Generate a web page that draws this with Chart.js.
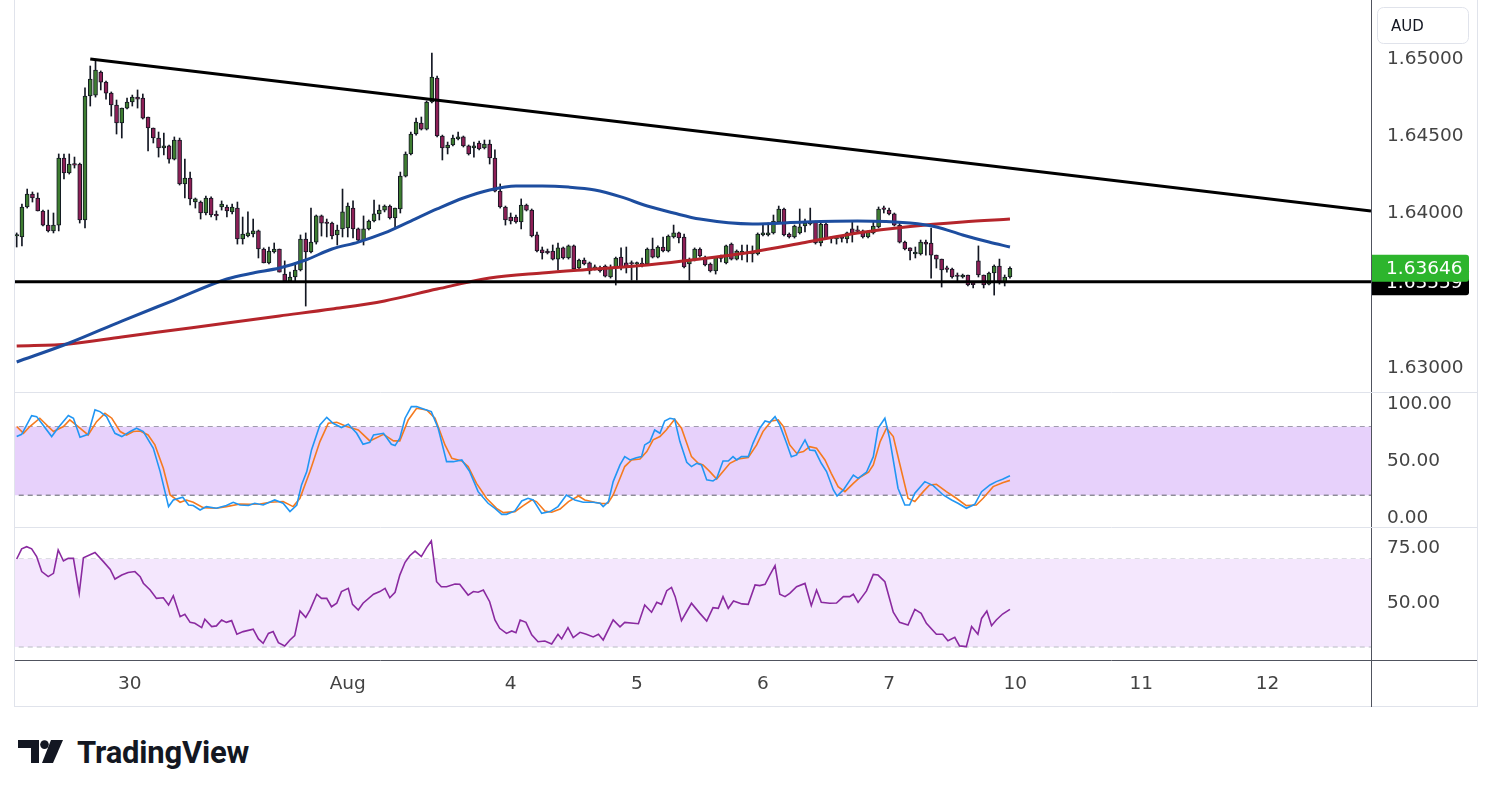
<!DOCTYPE html>
<html><head><meta charset="utf-8">
<script src="https://cdn.jsdelivr.net/npm/chart.js@4.4.1/dist/chart.umd.min.js"></script>
<style>
html,body{margin:0;padding:0;background:#fff;width:1491px;height:797px;overflow:hidden;}
#frame{position:absolute;left:14px;top:-1px;width:1464px;height:708px;border:1px solid #e0e3eb;box-sizing:border-box;}
canvas.pane{position:absolute;left:15px;}
#cPrice{top:0;}
#cStoch{top:392px;}
#cRsi{top:527px;}
#logoIcon{position:absolute;left:18px;top:740px;}
#logoText{position:absolute;left:77px;top:737px;line-height:31px;font-family:Roboto,"Noto Sans",sans-serif;font-weight:700;font-size:31px;color:#131722;letter-spacing:-0.2px;}
</style></head><body>
<div id="frame"></div>
<canvas id="cPrice" class="pane" width="1462" height="392"></canvas>
<canvas id="cStoch" class="pane" width="1462" height="135"></canvas>
<canvas id="cRsi" class="pane" width="1462" height="180"></canvas>
<svg id="logoIcon" width="45" height="23" viewBox="0 0 45 23"><path d="M0 0H21V23H13V8H0Z" fill="#131722"/><circle cx="26.5" cy="4.6" r="4.3" fill="#131722"/><path d="M33 0H45L35 23H24Z" fill="#131722"/></svg>
<div id="logoText">TradingView</div>
<script>
// ---------- DATA ----------
const xTickIdx = [21.5, 63, 94, 118, 142, 166, 190, 214, 238];
const xTickLabels = ['30', 'Aug', '4', '5', '6', '7', '10', '11', '12'];
const priceTicks = [1.63, 1.64, 1.645, 1.65];
const stochTicks = [0, 50, 100];
const rsiTicks = [50, 75];

const open = [
1.63855,1.63849,1.64043,1.64127,1.64101,1.64017,1.63926,1.63888,1.63926,1.64360,
1.64263,1.64321,1.64321,1.63959,1.64761,1.64767,1.64916,1.64851,1.64780,1.64703,
1.64586,1.64683,1.64722,1.64754,1.64748,1.64625,1.64554,1.64489,1.64425,1.64438,
1.64353,1.64476,1.64192,1.64230,1.64075,1.64075,1.64004,1.64101,1.63991,1.64043,
1.64043,1.64011,1.64036,1.63836,1.63855,1.63868,1.63888,1.63771,1.63681,1.63752,
1.63771,1.63609,1.63564,1.63590,1.63635,1.63836,1.63752,1.63816,1.63985,1.63939,
1.63939,1.63862,1.63901,1.63907,1.64036,1.63901,1.63829,1.63901,1.63952,1.63998,
1.64023,1.64049,1.63972,1.64030,1.64243,1.64386,1.64515,1.64586,1.64547,1.64722,
1.64877,1.64502,1.64425,1.64444,1.64483,1.64496,1.64438,1.64425,1.64457,1.64425,
1.64450,1.64360,1.64146,1.64043,1.63978,1.63978,1.63946,1.64056,1.64023,1.63862,
1.63765,1.63758,1.63758,1.63706,1.63778,1.63713,1.63791,1.63648,1.63700,1.63681,
1.63642,1.63648,1.63661,1.63590,1.63648,1.63719,1.63681,1.63681,1.63674,1.63674,
1.63674,1.63771,1.63719,1.63784,1.63758,1.63849,1.63875,1.63849,1.63674,1.63700,
1.63771,1.63719,1.63674,1.63629,1.63713,1.63681,1.63803,1.63706,1.63739,1.63745,
1.63739,1.63739,1.63862,1.63862,1.63875,1.63946,1.64030,1.63868,1.63849,1.63875,
1.63920,1.63933,1.63946,1.63810,1.63933,1.63842,1.63836,1.63842,1.63836,1.63901,
1.63888,1.63888,1.63849,1.63875,1.63914,1.64030,1.64023,1.63998,1.63926,1.63816,
1.63778,1.63739,1.63739,1.63816,1.63810,1.63732,1.63706,1.63642,1.63642,1.63596,
1.63590,1.63603,1.63544,1.63694,1.63603,1.63544,1.63616,1.63661,1.63551,1.63590];
const high = [
1.63875,1.64062,1.64159,1.64140,1.64134,1.64023,1.64023,1.64004,1.64386,1.64386,
1.64386,1.64366,1.64327,1.64813,1.64955,1.64987,1.64923,1.64858,1.64787,1.64735,
1.64683,1.64748,1.64767,1.64800,1.64774,1.64625,1.64554,1.64528,1.64521,1.64444,
1.64496,1.64489,1.64353,1.64269,1.64101,1.64082,1.64114,1.64108,1.64017,1.64082,
1.64056,1.64062,1.64075,1.63978,1.64011,1.63965,1.63894,1.63778,1.63784,1.63810,
1.63771,1.63694,1.63622,1.63681,1.63862,1.63875,1.64036,1.63991,1.63991,1.63965,
1.63946,1.63926,1.64159,1.64069,1.64082,1.63907,1.63985,1.63959,1.64088,1.64056,
1.64056,1.64056,1.64036,1.64269,1.64399,1.64528,1.64618,1.64625,1.64729,1.65039,
1.64890,1.64508,1.64463,1.64508,1.64528,1.64502,1.64444,1.64463,1.64470,1.64476,
1.64476,1.64412,1.64192,1.64049,1.64004,1.63991,1.64095,1.64062,1.64030,1.63881,
1.63784,1.63771,1.63797,1.63810,1.63784,1.63797,1.63797,1.63706,1.63713,1.63687,
1.63668,1.63661,1.63668,1.63668,1.63719,1.63778,1.63784,1.63694,1.63687,1.63713,
1.63778,1.63842,1.63791,1.63849,1.63862,1.63926,1.63881,1.63868,1.63713,1.63778,
1.63778,1.63726,1.63681,1.63719,1.63732,1.63797,1.63810,1.63765,1.63797,1.63797,
1.63791,1.63875,1.63933,1.63939,1.63991,1.64049,1.64036,1.63875,1.63926,1.64030,
1.63965,1.64036,1.63952,1.63939,1.63939,1.63849,1.63849,1.63855,1.63881,1.63946,
1.63920,1.63894,1.63888,1.63946,1.64043,1.64049,1.64036,1.64004,1.63939,1.63823,
1.63778,1.63784,1.63829,1.63829,1.63907,1.63732,1.63706,1.63661,1.63648,1.63616,
1.63609,1.63603,1.63557,1.63791,1.63603,1.63622,1.63668,1.63706,1.63603,1.63655];
const low = [
1.63784,1.63791,1.64036,1.64075,1.64017,1.63920,1.63881,1.63875,1.63888,1.64224,
1.64256,1.64295,1.63939,1.63907,1.64696,1.64754,1.64800,1.64741,1.64631,1.64515,
1.64489,1.64677,1.64696,1.64683,1.64612,1.64405,1.64457,1.64366,1.64379,1.64327,
1.64347,1.64185,1.64101,1.64056,1.64036,1.63965,1.63991,1.63978,1.63959,1.64023,
1.63978,1.63998,1.63803,1.63803,1.63849,1.63849,1.63713,1.63681,1.63674,1.63745,
1.63622,1.63557,1.63557,1.63557,1.63629,1.63402,1.63745,1.63803,1.63855,1.63849,
1.63836,1.63797,1.63849,1.63849,1.63842,1.63816,1.63797,1.63894,1.63946,1.63959,
1.64011,1.63965,1.63914,1.64004,1.64237,1.64379,1.64508,1.64541,1.64541,1.64716,
1.64496,1.64347,1.64386,1.64438,1.64476,1.64431,1.64379,1.64366,1.64412,1.64418,
1.64321,1.64140,1.64036,1.63926,1.63933,1.63939,1.63901,1.64017,1.63849,1.63752,
1.63706,1.63739,1.63700,1.63635,1.63706,1.63706,1.63635,1.63642,1.63668,1.63609,
1.63635,1.63622,1.63590,1.63583,1.63538,1.63635,1.63616,1.63570,1.63570,1.63655,
1.63668,1.63713,1.63713,1.63752,1.63752,1.63842,1.63810,1.63648,1.63570,1.63694,
1.63719,1.63661,1.63622,1.63609,1.63687,1.63674,1.63700,1.63700,1.63700,1.63687,
1.63687,1.63732,1.63855,1.63855,1.63868,1.63939,1.63855,1.63842,1.63842,1.63868,
1.63881,1.63926,1.63803,1.63791,1.63836,1.63810,1.63803,1.63816,1.63810,1.63816,
1.63875,1.63842,1.63842,1.63868,1.63907,1.64004,1.63991,1.63920,1.63810,1.63765,
1.63700,1.63713,1.63732,1.63732,1.63583,1.63648,1.63525,1.63622,1.63583,1.63564,
1.63583,1.63532,1.63519,1.63590,1.63519,1.63538,1.63473,1.63544,1.63532,1.63583];
const close = [
1.63862,1.64043,1.64127,1.64101,1.64017,1.63926,1.63888,1.63926,1.64360,1.64263,
1.64321,1.64314,1.63959,1.64761,1.64871,1.64929,1.64851,1.64780,1.64703,1.64586,
1.64683,1.64722,1.64754,1.64741,1.64618,1.64554,1.64489,1.64425,1.64438,1.64353,
1.64476,1.64192,1.64230,1.64095,1.64095,1.64004,1.64101,1.63991,1.63985,1.64062,
1.64017,1.64043,1.63836,1.63868,1.63875,1.63888,1.63771,1.63681,1.63758,1.63771,
1.63622,1.63564,1.63590,1.63635,1.63836,1.63752,1.63816,1.63985,1.63939,1.63936,
1.63855,1.63894,1.64011,1.64049,1.63901,1.63829,1.63901,1.63952,1.63998,1.64023,
1.64049,1.63972,1.64036,1.64243,1.64386,1.64515,1.64593,1.64547,1.64722,1.64884,
1.64502,1.64425,1.64444,1.64489,1.64496,1.64438,1.64386,1.64438,1.64418,1.64450,
1.64360,1.64146,1.64043,1.63959,1.63952,1.63946,1.64056,1.64023,1.63855,1.63758,
1.63745,1.63745,1.63706,1.63778,1.63713,1.63791,1.63642,1.63700,1.63674,1.63629,
1.63655,1.63629,1.63596,1.63648,1.63713,1.63648,1.63655,1.63674,1.63677,1.63671,
1.63771,1.63719,1.63784,1.63758,1.63855,1.63875,1.63842,1.63655,1.63700,1.63771,
1.63726,1.63668,1.63629,1.63719,1.63710,1.63791,1.63706,1.63758,1.63758,1.63742,
1.63752,1.63868,1.63875,1.63875,1.63952,1.64030,1.63862,1.63849,1.63920,1.63914,
1.63939,1.63946,1.63810,1.63933,1.63842,1.63839,1.63839,1.63839,1.63875,1.63875,
1.63885,1.63849,1.63881,1.63920,1.64030,1.64027,1.63998,1.63926,1.63816,1.63771,
1.63758,1.63752,1.63816,1.63803,1.63732,1.63706,1.63635,1.63639,1.63590,1.63593,
1.63603,1.63538,1.63541,1.63603,1.63538,1.63616,1.63661,1.63551,1.63590,1.63646];

const ma100Idx = [0,10,20,30,40,45,50,55,60,65,70,75,80,85,90,95,100,105,110,115,120,125,130,140,150,160,170,175,180,185,189];
const ma100 = [1.63040,1.63163,1.63305,1.63441,1.63577,1.63616,1.63648,1.63700,1.63771,1.63816,1.63875,1.63952,1.64030,1.64101,1.64153,1.64179,1.64179,1.64172,1.64153,1.64108,1.64049,1.64004,1.63965,1.63933,1.63946,1.63952,1.63939,1.63914,1.63862,1.63816,1.63784];
const ma200Idx = [0,10,20,30,40,50,60,70,80,90,100,110,120,130,140,150,160,170,180,189];
const ma200 = [1.63143,1.63156,1.63202,1.63247,1.63292,1.63338,1.63383,1.63435,1.63512,1.63583,1.63616,1.63642,1.63668,1.63706,1.63752,1.63813,1.63875,1.63917,1.63946,1.63965];

const trendIdx = [14, 257.7];
const trendPrice = [1.65000, 1.64017];
const supportLevel = 1.63559;

const kIdx = [0,0.95,2.85,3.8,4.76,6.66,7.93,9.83,10.8,12.05,
13.6,14.9,15.85,17.1,18.7,20,21.6,22.8,24.1,26,
27.3,28.9,29.8,31.6,32.7,33.6,34.9,36.1,38,39.9,
41.2,42.5,44.1,45.3,46.9,49.1,50.7,52,53.3,54.2,
55.2,56.1,57.7,59,60.2,61.8,63.1,64.7,65.9,67.2,
67.9,69.8,71.3,72,72.9,73.9,75.1,76.1,77.4,78.9,
80.2,81.8,83.1,84.7,86.2,87.8,89.7,91,92.3,93.2,
94.8,96.1,97.3,98.3,99.9,101.5,103,104.6,106.2,107.8,
109.7,111,111.6,112.6,113.5,114.8,115.7,116.7,117.9,118.9,
119.5,120.5,121.4,122.4,123.3,124.3,125.2,126.2,127.5,128.4,
129.4,130.3,131.3,132.5,133.2,134.4,135.4,136.3,137,137.9,
139.2,140.1,141.4,142.4,143.3,144.3,145.2,146.5,147.4,148.4,
150,150.9,151.9,153.1,154.1,155.4,156.1,157.3,159.2,160.1,
161.7,163,163.9,165.2,166.1,167.7,169,169.9,170.9,172.8,
174.4,176.3,177.9,179.1,180.7,182.3,183.6,185.2,186.4,187.6,
189];
const kVal = [71.4,73.4,89.8,88.9,83.1,71.4,79.3,89.8,87.5,70.8,
73.4,94.8,93.3,88.9,74.3,71.4,75.8,78.7,75.8,61.1,
40.7,10,15.8,18.2,11.4,10.9,7,10,8.5,10.9,
13.8,11.4,10.9,12.9,11.4,15.8,12.9,5.6,11.4,29,
40.7,59.7,81.6,88.3,83.1,79.3,82.2,74.3,64.7,66.4,
72.8,74.3,64.7,63.5,69.9,87.5,97.7,97.7,95.6,93.3,
78.7,49.4,49.4,50.9,40.7,23.1,12.9,8.5,3.2,3.2,
6.2,14.9,17.3,15.8,4.1,5.6,10,20.2,15.8,13.8,
13.8,12.9,10,14.4,31.9,46.5,53.8,50.9,52.9,53.8,
64.1,67,77.2,74.3,85.1,87.5,86.6,67,48.9,45.1,
48,46.5,33.4,32.5,34.8,50,50,53.8,50.9,53.8,
53.8,65.5,78.7,85.1,83.9,88.9,81.6,65.5,53.8,55.3,
68.5,59.7,59.1,48,40.7,24.6,19.3,24.6,37.7,34.8,
40.1,53.8,78.7,87.5,69.9,26.1,11.4,11.4,21.7,31.9,
28.4,20.2,15.8,12.9,8.5,12,23.1,29,31.9,34,
37];
const dIdx = [0,1.3,2.5,4.4,6,7,8.9,10.1,11.7,13.6,
15.2,16.8,18.1,19.7,20.9,22.2,23.5,25,26.3,27.9,
29.2,31.1,32.3,33.6,35.5,38,39.9,42.5,44.4,46.3,
48.2,50.7,52.6,53.9,55.8,57.7,59.3,60.9,62.8,65,
67.2,69.8,71.7,72.9,74.5,76.1,78,79.6,81.5,82.8,
84.7,85.9,87.5,89.4,91.3,92.6,94.8,96.4,98,98.9,
100.5,101.8,103.4,105,106.9,108.1,110,111.3,112.5,113.5,
114.8,115.7,117,118.6,119.9,121.1,122.4,123.6,125.2,126.5,
128.4,129.7,130.6,131.9,133.2,134.4,135.7,137.3,139.2,140.8,
142,143.6,144.9,145.9,147.1,148.4,149.7,150.9,152.2,153.8,
155,156.3,157.6,159.2,160.4,162.1,163,164.3,165.5,166.8,
168,169.6,170.9,172.5,173.7,175,176.9,178.8,180.7,182.6,
183.9,185.8,187.6,189];
const dVal = [80.2,74.3,80.2,87.5,80.2,75.8,80.2,86,80.2,72.8,
84.5,91.8,87.5,75.8,72.8,75.8,76.3,72.8,64.1,43.6,
20.2,13.8,15.8,13.8,9.1,8.5,10,12.3,12,12.3,
13.8,14.4,10,17.3,40.7,67,83.1,84,80.2,77.2,
67.6,73.4,67.6,67.6,86,96.2,94.8,87.5,64.1,52.4,
50,45.1,30.4,17.3,8.5,4.7,5.6,10.9,15.8,14.4,
6.2,5,7.9,14.4,19.3,15.8,13.8,12.6,12.9,20.2,
34.8,45.1,50.9,51.8,58.2,68.5,71.4,77.2,86.6,78.7,
53.8,48,46.5,40.7,34.2,40.7,48,51.8,53,64.1,
75.8,85.1,86,80.2,64.1,56.8,58.2,62.6,61.1,50.9,
39.2,27.5,23.1,30.4,35.4,40.1,46.5,67,78.7,71.4,
48,17.3,14.4,23.1,29,29.6,23.1,17.3,10.9,11.4,
17.3,27.5,31,33];

const rsiIdx = [0,0.95,1.9,2.85,3.8,4.76,6,7,7.9,8.9,
9.8,10.8,11.9,12.7,14.9,16.5,17.8,18.7,20,21.2,
22.5,23.5,24.1,25.4,26.6,27.9,28.9,29.8,31.1,32,
33,33.9,35.2,35.8,37.1,38,39,39.9,40.9,41.9,
43.1,45,46,46.9,47.9,48.8,49.8,51,52,52.9,
53.9,55,55.8,57.1,58,59,59.9,60.9,61.8,63.1,
63.9,65,65.9,67.9,69.1,70.1,71,72,72.9,73.9,
74.8,75.8,77,78,78.9,79.9,80.8,81.8,83.4,84.3,
85.9,86.9,87.8,88.8,90,91,91.9,93.2,94.2,95,
95.8,96.9,98,99.2,100.5,101.8,103,103.7,104.9,105.9,
107.2,108.4,109.7,110.7,111.6,113.5,114.8,115.7,118.3,119.5,
120.8,121.8,122.7,123.7,124.6,125.3,126.5,128.4,130,131.3,
132.5,133.5,134.4,135.4,136.4,138,139.2,140.5,141.4,142.4,
143.3,144.3,145.2,146.2,147.1,148.4,150,151.2,152.2,153.1,
154.7,156,157.3,158.5,159.2,160.1,161.7,163,163.9,165.2,
166.8,168,169.6,170.9,172.1,173.1,175,176.2,177.2,178.5,
179.4,180.7,181.7,182.9,183.6,184.6,185.5,186.4,187.6,189];
const rsiVal = [70,74.6,75.6,74.6,71.1,64.3,62,63.5,74.1,69.1,
70.3,70.3,54.4,70.6,73,68.8,65.3,60.9,62.7,63.9,
64.3,62,59,55.9,52.1,52.4,49.1,53.3,43.8,44.9,
41.2,40.8,38.8,42.6,39.3,39.6,42.3,41.2,42,35.8,
37,38.1,33.7,31.7,36.2,37,32,30.5,33.2,35.2,
46.4,43.5,46.8,54,52.1,52.1,48.3,49.9,55.2,56.7,
49.4,46.8,49.9,54,55.2,56.7,52.4,54.9,62.7,68.5,
71.5,73.6,71.1,75.2,78.2,59.7,57.4,57.4,58.6,58.5,
53.6,55.2,54.9,55.9,50.6,42.3,38.5,36.2,37.3,36.5,
42.3,41.2,35.5,32.4,32.7,31.4,35.8,33.7,38.8,34.3,
36.7,35.8,34.6,35.8,33.2,42.3,39.2,41.2,40.6,49.1,
45.8,50.3,49.4,55.6,57.1,52.9,42,49.9,45.3,41.8,
47.9,47.6,52.9,47.6,50.9,49.6,49.4,58.2,57.9,58.5,
62.7,67,54,52.9,54.4,57.4,58.9,48.8,55.9,50.3,
49.9,50,52.9,52.9,54,50.3,55.5,63,62.7,59.7,
45.8,41.2,40,47.1,45.3,40.8,35.8,35.8,32.9,34.4,
30.5,30.2,39.3,35.8,43,46.4,39.7,42.3,45,47.1];

const stochBand = [20, 80];
const rsiBand = [30, 70];

// ---------- RENDER ----------
const X_MIN = -0.32, X_MAX = 257.7;
const FONT = 'DejaVu Sans';
const TXT = '#434343';
const FSIZE = 18.5;
const pts = (xs, ys) => xs.map((x, i) => ({x, y: ys[i]}));
const hline = (v) => [{x: X_MIN - 1, y: v}, {x: X_MAX + 1, y: v}];
const noPad = (s) => { s.paddingTop = 0; s.paddingBottom = 0; s.paddingLeft = 0; s.paddingRight = 0; };

function yAxis(min, max, ticks, dec) {
  return {
    position: 'right', min, max,
    grid: {display: false, drawTicks: false},
    border: {display: true, color: '#50535e', width: 1},
    afterFit(s) { s.width = 106; noPad(s); },
    afterBuildTicks(s) { s.ticks = ticks.map(v => ({value: v})); },
    ticks: {padding: 16, color: TXT, font: {family: FONT, size: FSIZE}, callback: v => Number(v).toFixed(dec)}
  };
}
function xAxis(show) {
  return {
    type: 'linear', min: X_MIN, max: X_MAX, offset: false, display: show,
    grid: {display: false, drawTicks: false}, border: {display: false},
    afterFit(s) { if (show) s.height = 47; noPad(s); },
    afterBuildTicks(s) { s.ticks = xTickIdx.map(v => ({value: v})); },
    ticks: {autoSkip: false, maxRotation: 0, padding: 13, color: TXT, font: {family: FONT, size: FSIZE},
      callback: v => { const k = xTickIdx.indexOf(v); return k >= 0 ? xTickLabels[k] : ''; }}
  };
}
const baseOpts = {responsive: false, animation: false, events: [],
  layout: {padding: 0}, plugins: {legend: {display: false}, tooltip: {enabled: false}}};

const sepTop = {id: 'sepTop', afterDraw(chart) {
  const c = chart.ctx; c.save(); c.strokeStyle = '#e0e3eb'; c.lineWidth = 1;
  c.beginPath(); c.moveTo(0, 0.5); c.lineTo(chart.width, 0.5); c.stroke(); c.restore();
}};

const idx = open.map((_, i) => i);
const GREEN = '#3e7d31', RED = '#8d1f56';

const priceLabels = {id: 'priceLabels', afterDraw(chart) {
  const {ctx, chartArea} = chart; const y = chart.scales.y;
  const x0 = chartArea.right + 1, w = 97, h = 27;
  function box(val, fill) {
    const py = y.getPixelForValue(val);
    ctx.save(); ctx.fillStyle = fill; ctx.beginPath();
    ctx.roundRect(x0, py - h / 2, w, h, [0, 3, 3, 0]); ctx.fill();
    ctx.fillStyle = '#fff'; ctx.font = FSIZE + 'px "' + FONT + '"'; ctx.textBaseline = 'middle';
    ctx.fillText(val.toFixed(5), x0 + 14, py + 1); ctx.restore();
  }
  box(supportLevel, '#000000');
  box(close[close.length - 1], '#2db52d');
  ctx.save(); ctx.beginPath(); ctx.roundRect(chartArea.right + 6.5, 7.5, 91, 36, 6);
  ctx.fillStyle = '#fff'; ctx.fill(); ctx.strokeStyle = '#e0e3eb'; ctx.lineWidth = 1; ctx.stroke();
  ctx.fillStyle = '#131722'; ctx.font = '15px "' + FONT + '"'; ctx.textBaseline = 'middle';
  ctx.fillText('AUD', chartArea.right + 20, 27); ctx.restore();
}};

new Chart(document.getElementById('cPrice'), {
  type: 'bar',
  data: {datasets: [
    {type: 'line', data: pts(trendIdx, trendPrice), borderColor: '#000', borderWidth: 3, pointRadius: 0, order: -3},
    {type: 'line', data: hline(supportLevel), borderColor: '#000', borderWidth: 3, pointRadius: 0, order: -3},
    {type: 'line', data: pts(ma200Idx, ma200), borderColor: '#b5252b', borderWidth: 3, pointRadius: 0, cubicInterpolationMode: 'monotone', order: -1},
    {type: 'line', data: pts(ma100Idx, ma100), borderColor: '#1d4d9f', borderWidth: 3, pointRadius: 0, cubicInterpolationMode: 'monotone', order: -2},
    {type: 'bar', data: idx.map(i => ({x: i, y: [low[i], high[i]]})), backgroundColor: '#131722', barThickness: 1, grouped: false, order: 2, borderWidth: 0},
    {type: 'bar', data: idx.map(i => ({x: i, y: [open[i], close[i]]})),
      backgroundColor: idx.map(i => close[i] >= open[i] ? GREEN : RED),
      borderColor: '#131722', borderWidth: 1, borderSkipped: false, barThickness: 4, minBarLength: 1.5, grouped: false, order: 1}
  ]},
  options: Object.assign({}, baseOpts, {scales: {x: xAxis(false), y: yAxis(1.62846, 1.65382, priceTicks, 5)}}),
  plugins: [priceLabels]
});

new Chart(document.getElementById('cStoch'), {
  type: 'line',
  data: {datasets: [
    {data: hline(stochBand[1]), borderColor: '#5d606b', borderWidth: 1, borderDash: [5, 4], pointRadius: 0, order: 5},
    {data: hline(stochBand[0]), borderColor: '#5d606b', borderWidth: 1, borderDash: [5, 4], pointRadius: 0, fill: {target: 0}, backgroundColor: '#e7d1fb', order: 4},
    {data: pts(dIdx, dVal), borderColor: '#f57a1f', borderWidth: 1.6, pointRadius: 0, order: 1},
    {data: pts(kIdx, kVal), borderColor: '#2196f3', borderWidth: 1.6, pointRadius: 0, order: 0}
  ]},
  options: Object.assign({}, baseOpts, {scales: {x: xAxis(false), y: yAxis(-7.9, 110.5, stochTicks, 2)}}),
  plugins: [sepTop]
});

const axisFrame = {id: 'axisFrame', afterDraw(chart) {
  const c = chart.ctx, a = chart.chartArea; c.save();
  c.strokeStyle = '#50535e'; c.lineWidth = 1;
  c.beginPath(); c.moveTo(0, Math.round(a.bottom) + 0.5); c.lineTo(chart.width, Math.round(a.bottom) + 0.5); c.stroke();
  c.beginPath(); c.moveTo(Math.round(a.right) + 0.5, a.bottom); c.lineTo(Math.round(a.right) + 0.5, chart.height); c.stroke();
  c.restore();
}};

new Chart(document.getElementById('cRsi'), {
  type: 'line',
  data: {datasets: [
    {data: hline(rsiBand[1]), borderColor: '#b8bbc4', borderWidth: 1, borderDash: [5, 4], pointRadius: 0, order: 5},
    {data: hline(rsiBand[0]), borderColor: '#b8bbc4', borderWidth: 1, borderDash: [5, 4], pointRadius: 0, fill: {target: 0}, backgroundColor: '#f4e7fd', order: 4},
    {data: pts(rsiIdx, rsiVal), borderColor: '#8a2aa0', borderWidth: 1.6, pointRadius: 0, order: 0}
  ]},
  options: Object.assign({}, baseOpts, {scales: {x: xAxis(true), y: yAxis(24.1, 84.55, rsiTicks, 2)}}),
  plugins: [sepTop, axisFrame]
});
</script>
</body></html>
